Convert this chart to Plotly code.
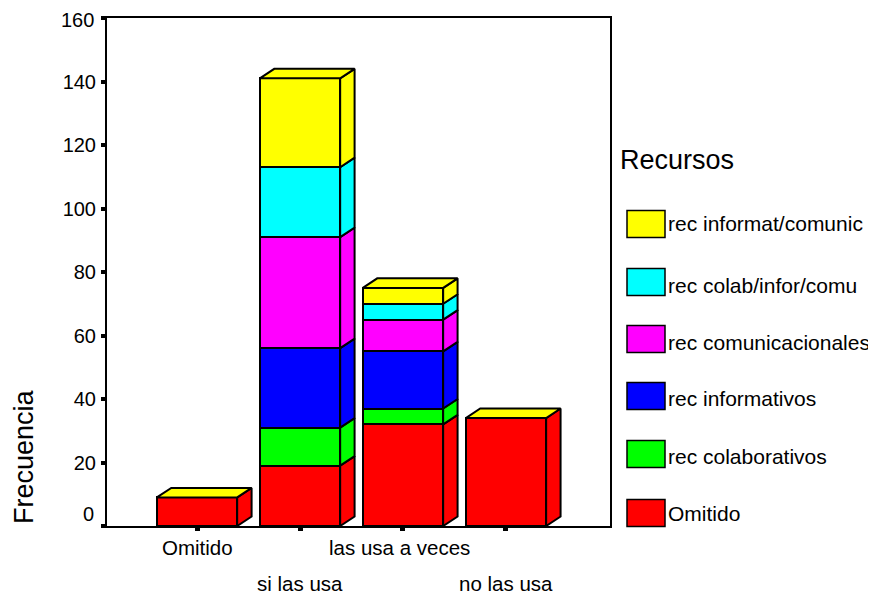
import plotly.graph_objects as go

categories = ["Omitido", "si las usa", "las usa a veces", "no las usa"]
series_names = ["Omitido", "rec colaborativos", "rec informativos",
                "rec comunicacionales", "rec colab/infor/comu", "rec informat/comunic"]
colors = ["#ff0000", "#00ff00", "#0000ff", "#ff00ff", "#00ffff", "#ffff00"]
omitido = [9, 19, 32, 34]
colaborativos = [0, 12, 5, 0]
informativos = [0, 25, 18, 0]
comunicacionales = [0, 35, 10, 0]
colab_infor_comu = [0, 22, 5, 0]
informat_comunic = [0, 28, 5, 0]
series = [omitido, colaborativos, informativos, comunicacionales, colab_infor_comu, informat_comunic]
y_ticks = [20, 40, 60, 80, 100, 120, 140]
y_max = 160

OFF = 8  # default page margin of the browser
W, H = 876, 601
L, R, T, B = 107, 610, 18, 526
xs = list(range(len(categories)))
xrange_ = [-0.874, 4.01]
yrange_ = [0, y_max]
bw = 0.78
dx = 0.14
dy = 3.0
FONT = "Liberation Sans"
LW = 2


def px(x):
    return (x - L) / (R - L)


def py(y):
    return (B - y) / (B - T)


fig = go.Figure()
for name, vals, col in zip(series_names, series, colors):
    fig.add_trace(go.Bar(x=xs, y=vals, name=name, width=bw, marker=dict(color=col, line=dict(color="black", width=LW)),
                         showlegend=False))


def poly(xv, yv, col):
    fig.add_trace(go.Scatter(x=xv + xv[:1], y=yv + yv[:1], mode="lines", fill="toself", fillcolor=col,
                             line=dict(color="black", width=LW), showlegend=False, hoverinfo="skip"))


for i in xs:
    base = 0
    x1 = i + bw / 2
    x0 = i - bw / 2
    for vals, col in zip(series, colors):
        v = vals[i]
        if v == 0:
            continue
        poly([x1, x1 + dx, x1 + dx, x1], [base, base + dy, base + v + dy, base + v], col)
        base += v
    poly([x0, x0 + dx, x1 + dx, x1], [base, base + dy, base + dy, base], colors[-1])

ann = []
label_dx = [0, 0, -3, 0]
for k, c in enumerate(categories):
    ann.append(dict(x=k, y=0, xref="x", yref="y", text=c, showarrow=False, xanchor="center", yanchor="middle",
                    xshift=label_dx[k], yshift=-21 if k % 2 == 0 else -57,
                    font=dict(family=FONT, size=20.5, color="black")))
ann.append(dict(x=0, y=0, xref="paper", yref="y", text="0", showarrow=False, xanchor="right", yanchor="middle",
                xshift=-11, yshift=12, font=dict(family=FONT, size=20, color="black")))
ann.append(dict(x=0, y=y_max, xref="paper", yref="y", text=str(y_max), showarrow=False, xanchor="right",
                yanchor="middle", xshift=-11, yshift=-2, font=dict(family=FONT, size=20, color="black")))
ann.append(dict(x=px(24), y=py(457), xref="paper", yref="paper", text="Frecuencia", textangle=-90, showarrow=False,
                xanchor="center", yanchor="middle", font=dict(family=FONT, size=27, color="black")))
ann.append(dict(x=px(620), y=py(160), xref="paper", yref="paper", text="Recursos", showarrow=False,
                xanchor="left", yanchor="middle", xshift=-2, font=dict(family=FONT, size=27, color="black")))

shapes = []
sw_y = [513, 454, 396, 339, 282, 224]
tx_y = [513, 456, 398, 342, 285, 224]
for name, col, sy, ty in zip(series_names, colors, sw_y, tx_y):
    shapes.append(dict(type="rect", xref="paper", yref="paper", x0=px(627), x1=px(665), y0=py(sy + 13.5),
                       y1=py(sy - 13.5), fillcolor=col, line=dict(color="black", width=1.5)))
    ann.append(dict(x=px(666), y=py(ty), xref="paper", yref="paper", text=name, showarrow=False,
                    xanchor="left", yanchor="middle", font=dict(family=FONT, size=21, color="black")))

fig.update_layout(
    width=W - OFF, height=H - OFF, autosize=False, barmode="stack", bargap=0,
    margin=dict(l=L - OFF, r=W - R, t=T - OFF, b=H - B, pad=0, autoexpand=False),
    paper_bgcolor="white", plot_bgcolor="white", showlegend=False,
    annotations=ann, shapes=shapes,
    xaxis=dict(range=xrange_, tickmode="array", tickvals=xs, ticktext=[""] * 4, ticks="outside", ticklen=3, tickwidth=5,
               tickcolor="black", showgrid=False, zeroline=False, showline=True, linecolor="black", linewidth=2,
               mirror=True, automargin=False),
    yaxis=dict(range=yrange_, tickmode="array", tickvals=[0] + y_ticks + [y_max],
               ticktext=[""] + [str(t) for t in y_ticks] + [""],
               ticks="outside", ticklen=4, tickwidth=4, tickcolor="black", showgrid=False, zeroline=False,
               showline=True, linecolor="black", linewidth=2, mirror=True, automargin=False, ticklabelstandoff=1,
               tickfont=dict(family=FONT, size=20, color="black")),
)
fig.write_html("out.html", config={"displayModeBar": False})
